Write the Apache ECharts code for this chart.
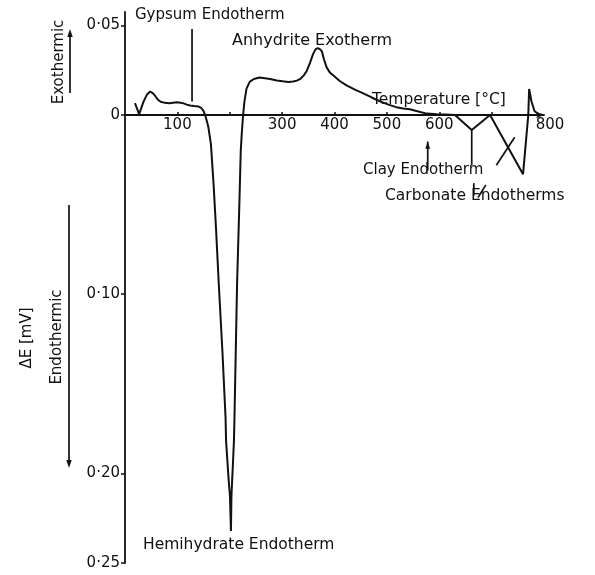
<!DOCTYPE html>
<html><head><meta charset="utf-8">
<script src="https://cdn.jsdelivr.net/npm/echarts@6/dist/echarts.min.js"></script>
<style>html,body{margin:0;padding:0;background:#fff}#c{width:595px;height:575px}</style>
</head><body><div id="c"></div>
<script>
// Temperature (°C)
const temperature = [19,27,35,42,48,53,58,63,68,76,84,92,99,106,112,118,124,132,140,146,150,153,156,159,164,169,174,179,186,192,193,198,200.4,202.3,203.2,206,208,209,214,218.5,221,223,225.5,228,232,238,246,257,267,277,290,301,312,321,328,334,341,347,353,359,364,368,372,376,380,385,391,398,410,423,439,455,471,487,503,518,531,544,560,576,595,612,630,662,697,760,770,771.6,774,776,782,790,798];
// ΔE (mV), positive = exothermic
const deltaE = [0.0066,0.0005,0.0072,0.0115,0.0131,0.0122,0.0105,0.0085,0.0074,0.0068,0.0066,0.0069,0.0071,0.0069,0.0065,0.0058,0.0053,0.0050,0.0048,0.0038,0.0022,0.0,-0.0030,-0.0065,-0.0161,-0.038,-0.0645,-0.094,-0.132,-0.169,-0.182,-0.204,-0.2126,-0.2321,-0.2126,-0.195,-0.1818,-0.169,-0.094,-0.048,-0.020,-0.010,0,0.0075,0.0147,0.0185,0.0201,0.0209,0.0205,0.0201,0.0193,0.0188,0.0185,0.0187,0.0192,0.0200,0.0220,0.0246,0.029,0.034,0.0368,0.0374,0.0368,0.0355,0.031,0.0266,0.0238,0.0220,0.0190,0.0166,0.0142,0.0121,0.0098,0.0076,0.0058,0.0044,0.0037,0.0032,0.0020,0.0008,0.0005,0.0003,0,-0.0083,0,-0.033,0,0.0145,0.0110,0.0077,0.0021,0.0005,0];
const xTickValues = [100,300,400,500,600,800];
const xTickLabels = ['100','300','400','500','600','800'];
const yTickValues = [0.05,0,-0.10,-0.20,-0.25];
const yTickLabels = ['0·05','0','0·10','0·20','0·25'];

const ink = '#111';
const FONT = 'DejaVu Sans';
const lookup = (vals, labels) => v => { const i = vals.findIndex(a => Math.abs(a - v) < 1e-9); return i < 0 ? '' : labels[i]; };

const chart = echarts.init(document.getElementById('c'), null, {renderer:'canvas'});
chart.setOption({
  animation:false,
  backgroundColor:'#fff',
  grid:{left:125, right:51, top:12, bottom:12, outerBoundsMode:'none'},
  xAxis:{type:'value', min:0, max:800, interval:100,
    axisLine:{onZero:true, lineStyle:{color:ink, width:1.8}, symbol:['none','arrow'], symbolSize:[5,8]},
    axisTick:{show:true, inside:true, length:3, lineStyle:{color:ink, width:1.5}, customValues:[100,200,300,400,500,600,700]},
    axisLabel:{show:false},
    splitLine:{show:false}},
  yAxis:{type:'value', min:-0.25, max:0.0575, interval:0.05,
    axisLine:{show:true, onZero:false, lineStyle:{color:ink, width:1.8}},
    axisTick:{show:true, length:4, lineStyle:{color:ink, width:1.5}, customValues:yTickValues},
    axisLabel:{customValues:yTickValues, formatter:lookup(yTickValues, yTickLabels), margin:5,
      fontFamily:FONT, fontSize:15, color:ink},
    splitLine:{show:false}},
  series:[{type:'line', data:temperature.map((t,i)=>[t, deltaE[i]]), showSymbol:false, symbol:'none',
    lineStyle:{color:ink, width:2}, clip:false, silent:true}]
});

const P = (t,v) => chart.convertToPixel({gridIndex:0}, [t,v]);
function seg(a,b,w){ return {type:'line', shape:{x1:a[0],y1:a[1],x2:b[0],y2:b[1]}, style:{stroke:ink, lineWidth:w||1.7}, silent:true}; }
function head(tip, from, size){
  const dx=tip[0]-from[0], dy=tip[1]-from[1], L=Math.hypot(dx,dy), ux=dx/L, uy=dy/L;
  const bx=tip[0]-ux*size*1.8, by=tip[1]-uy*size*1.8, px=-uy*size*0.6, py=ux*size*0.6;
  return {type:'polygon', shape:{points:[tip,[bx+px,by+py],[bx-px,by-py]]}, style:{fill:ink}, silent:true};
}
function txt(text, x, y, size, align, valign){
  return {type:'text', x:x, y:y, silent:true,
    style:{text:text, fill:ink, fontFamily:FONT, fontSize:size||15, align:align||'left', verticalAlign:valign||'middle'}};
}
function rtxt(text, x, y, size){
  return {type:'text', x:x, y:y, rotation:Math.PI/2, silent:true,
    style:{text:text, fill:ink, fontFamily:FONT, fontSize:size||15, align:'center', verticalAlign:'middle'}};
}

const g = [];
// Temperature tick labels, hung just below the zero line
xTickValues.forEach((v,i) => { const p = P(v,0); g.push(txt(xTickLabels[i], p[0] + (v === 800 ? 6 : 0), p[1] + 3, 15, 'center', 'top')); });
// Gypsum endotherm pointer
g.push(seg(P(128,0.048), P(128,0.0075)));
// Clay endotherm arrow
const ca = P(578,-0.031), cb = P(578,-0.0148);
g.push(seg(ca, cb), head(cb, ca, 4));
// Carbonate endotherm pointers
g.push(seg(P(662,-0.0083), P(662,-0.028)));
g.push(seg(P(666,-0.038), P(666,-0.045)));
g.push(seg(P(674,-0.046), P(689,-0.039)));
g.push(seg(P(709,-0.028), P(744,-0.0124)));
// Exothermic / Endothermic arrows
g.push(seg([70,93],[70,36]), head([70,29],[70,93],4.5));
g.push(seg([69,205],[69,460]), head([69,468],[69,205],4.5));
// Texts
g.push(txt('Gypsum Endotherm', 135, 15, 15));
g.push(txt('Anhydrite Exotherm', 232, 41, 16));
g.push(txt('Temperature [°C]', 372, 100, 15.5));
g.push(txt('Clay Endotherm', 363, 170, 15));
g.push(txt('Carbonate Endotherms', 385, 196, 15.5));
g.push(txt('Hemihydrate Endotherm', 143, 545, 15.5));
g.push(rtxt('Exothermic', 59, 62, 15));
g.push(rtxt('Endothermic', 57, 337, 15));
g.push(rtxt('ΔE [mV]', 27, 338, 15));
chart.setOption({graphic:g});
</script>
</body></html>
